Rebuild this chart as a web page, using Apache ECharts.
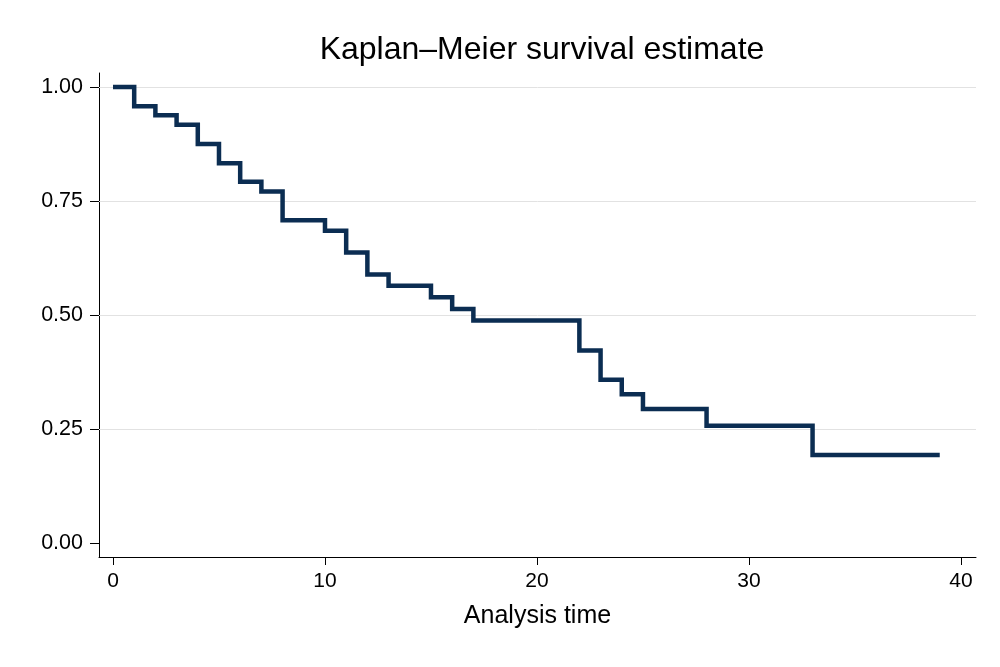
<!DOCTYPE html>
<html>
<head>
<meta charset="utf-8">
<script src="https://cdn.jsdelivr.net/npm/echarts@6/dist/echarts.min.js"></script>
<style>
html,body{margin:0;padding:0;background:#fff;}
#chart{width:1000px;height:667px;}
</style>
</head>
<body>
<div id="chart"></div>
<script>
// Analysis time at which each step starts
const times = [0, 1, 2, 3, 4, 5, 6, 7, 8, 10, 11, 12, 13, 15, 16, 17, 22, 23, 24, 25, 28, 33, 39];
// Kaplan–Meier survival estimate after each time
const survival = [1.000, 0.958, 0.938, 0.917, 0.875, 0.833, 0.792, 0.771, 0.708, 0.685, 0.637, 0.589, 0.564, 0.539, 0.513, 0.488, 0.422, 0.358, 0.326, 0.294, 0.257, 0.193, 0.193];
const xTicks = [0, 10, 20, 30, 40];
const yTicks = [0, 0.25, 0.5, 0.75, 1];
const gridValues = [0.25, 0.5, 0.75, 1];
const titleText = 'Kaplan–Meier survival estimate';
const xTitle = 'Analysis time';

const FONT = 'Liberation Sans, Arial, Helvetica, sans-serif';
const chart = echarts.init(document.getElementById('chart'), null, {renderer: 'canvas'});
const stepData = times.map((t, i) => [t, survival[i]]);

chart.setOption({
  animation: false,
  backgroundColor: '#ffffff',
  title: {
    text: titleText,
    left: 537,
    textAlign: 'center',
    top: 29,
    textStyle: {fontFamily: FONT, fontSize: 32, fontWeight: 'normal', color: '#000'}
  },
  grid: {left: 99, right: 24, top: 73, bottom: 110, containLabel: false},
  xAxis: {
    type: 'value',
    min: -0.66,
    max: 40.71,
    name: xTitle,
    nameLocation: 'middle',
    nameGap: 47,
    nameTextStyle: {fontFamily: FONT, fontSize: 25, color: '#000'},
    axisLine: {show: true, onZero: false, lineStyle: {color: '#000', width: 1}},
    axisTick: {show: true, length: 8, customValues: xTicks, lineStyle: {color: '#000', width: 1}},
    axisLabel: {show: true, customValues: xTicks, margin: 14, fontFamily: FONT, fontSize: 21, color: '#000'},
    splitLine: {show: false}
  },
  yAxis: {
    type: 'value',
    min: -0.0307,
    max: 1.0307,
    axisLine: {show: true, onZero: false, lineStyle: {color: '#000', width: 1}},
    axisTick: {show: true, length: 9, customValues: yTicks, lineStyle: {color: '#000', width: 1}},
    axisLabel: {show: true, customValues: yTicks, margin: 16, fontFamily: FONT, fontSize: 21.5, color: '#000',
      formatter: v => Number(v).toFixed(2)},
    splitLine: {show: false}
  },
  series: [
    {
      type: 'line',
      data: [],
      z: 1,
      silent: true,
      markLine: {
        silent: true,
        symbol: 'none',
        z: 1,
        label: {show: false},
        lineStyle: {color: '#e2e2e2', width: 1, type: 'solid'},
        emphasis: {disabled: true},
        data: gridValues.map(v => ({yAxis: v}))
      }
    },
    {
      type: 'line',
      step: 'end',
      z: 3,
      data: stepData,
      showSymbol: false,
      symbol: 'none',
      lineStyle: {color: '#0b2d52', width: 4.5, cap: 'butt', join: 'miter'}
    }
  ]
});
</script>
</body>
</html>
